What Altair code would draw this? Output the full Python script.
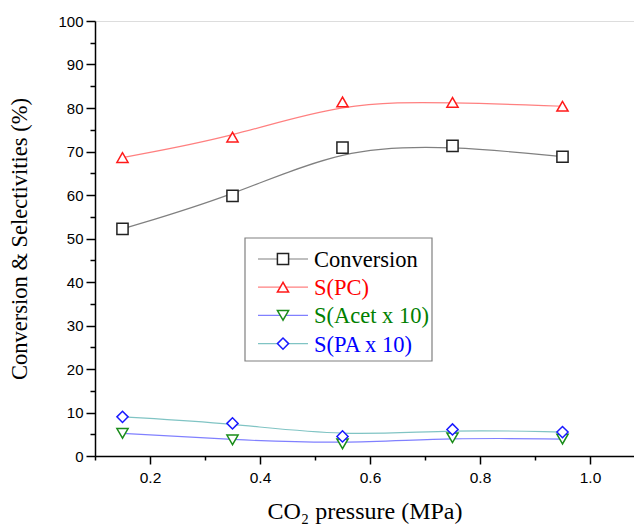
import altair as alt
import pandas as pd

# ---- data ----
pressure = [0.15, 0.35, 0.55, 0.75, 0.95]
conversion = [52.2, 59.8, 70.9, 71.3, 68.8]
s_pc = [68.6, 73.3, 81.4, 81.3, 80.4]
s_acet = [5.2, 3.7, 2.8, 4.2, 3.9]
s_pa = [9.0, 7.5, 4.5, 6.1, 5.5]

series_names = ["Conversion", "S(PC)", "S(Acet x 10)", "S(PA x 10)"]
series_values = [conversion, s_pc, s_acet, s_pa]
line_colors = ["#808080", "#ff8080", "#8080ff", "#80c4c4"]
marker_colors = ["#222222", "#ff1a1a", "#1a8c1a", "#1a1aff"]
label_colors = ["#000000", "#ff0000", "#008000", "#0000ff"]
shapes = ["square", "triangle-up", "triangle-down", "diamond"]

x_major = [0.2, 0.4, 0.6, 0.8, 1.0]
x_minor = [0.1, 0.3, 0.5, 0.7, 0.9]
y_major = list(range(0, 101, 10))
y_minor = list(range(5, 100, 10))

rows = []
for name, vals in zip(series_names, series_values):
    for p, v in zip(pressure, vals):
        rows.append({"series": name, "p": p, "v": v})
df = pd.DataFrame(rows)

xscale = alt.Scale(domain=[0.1, 1.08], nice=False, zero=False)
yscale = alt.Scale(domain=[0, 100], nice=False)

sans = "Liberation Sans"
serif = "Liberation Serif"

x_major_axis = alt.Axis(
    values=x_major, format=".1f", tickSize=8, tickWidth=1.5, domainWidth=1.5,
    domainColor="black", tickColor="black", labelFont=sans, labelFontSize=15.5,
    labelColor="black", labelPadding=6, title="CO₂ pressure (MPa)",
    titleFont=serif, titleFontSize=24, titleFontWeight="normal",
    titleColor="black", titlePadding=14, grid=False, orient="bottom",
    labelFlush=False,
)
y_major_axis = alt.Axis(
    values=y_major, tickSize=9, tickWidth=1.5, domainWidth=1.5,
    domainColor="black", tickColor="black", labelFont=sans, labelFontSize=15,
    labelColor="black", labelPadding=3, title="Conversion & Selectivities (%)",
    titleFont=serif, titleFontSize=22.5, titleFontWeight="normal",
    titleColor="black", titlePadding=26, grid=False, orient="left",
    labelFlush=False,
)
x_minor_axis = alt.Axis(values=x_minor, tickSize=4, tickWidth=1.5, labels=False,
                        domain=False, title=None, grid=False, orient="bottom",
                        tickColor="black")
y_minor_axis = alt.Axis(values=y_minor, tickSize=5, tickWidth=1.5, labels=False,
                        domain=False, title=None, grid=False, orient="left",
                        tickColor="black")

lines = alt.Chart(df).mark_line(interpolate="basis", strokeWidth=1.2).encode(
    x=alt.X("p:Q", scale=xscale, axis=x_major_axis),
    y=alt.Y("v:Q", scale=yscale, axis=y_major_axis),
    color=alt.Color("series:N", scale=alt.Scale(domain=series_names, range=line_colors), legend=None),
    detail="series:N",
)

minor = alt.Chart(df).mark_point(opacity=0).encode(
    x=alt.X("p:Q", scale=xscale, axis=x_minor_axis),
    y=alt.Y("v:Q", scale=yscale, axis=y_minor_axis),
)

points = alt.Chart(df).mark_point(filled=True, fill="white", strokeWidth=1.5, size=125, opacity=1).encode(
    x=alt.X("p:Q", scale=xscale, axis=None),
    y=alt.Y("v:Q", scale=yscale, axis=None),
    stroke=alt.Stroke("series:N", scale=alt.Scale(domain=series_names, range=marker_colors), legend=None),
    shape=alt.Shape("series:N", scale=alt.Scale(domain=series_names, range=shapes), legend=None),
)

# ---- hand-built legend box ----
one = alt.Data(values=[{}])
legend_layers = [
    alt.Chart(one).mark_rect(fill="white", stroke="#808080", strokeWidth=1.2).encode(
        x=alt.value(150), x2=alt.value(337), y=alt.value(217), y2=alt.value(340))
]
for i, name in enumerate(series_names):
    yy = 238 + 28.2 * i
    legend_layers.append(
        alt.Chart(one).mark_rule(color=line_colors[i], strokeWidth=1.2).encode(
            x=alt.value(163), x2=alt.value(213), y=alt.value(yy)))
    legend_layers.append(
        alt.Chart(one).mark_point(filled=True, fill="white", stroke=marker_colors[i],
                                  strokeWidth=1.5, size=125, shape=shapes[i], opacity=1).encode(
            x=alt.value(188), y=alt.value(yy)))
    legend_layers.append(
        alt.Chart(one).mark_text(align="left", baseline="middle", font=serif, fontSize=22.5,
                                 color=label_colors[i]).encode(
            x=alt.value(219), y=alt.value(yy + 1), text=alt.value(name)))

chart = alt.layer(lines, minor, points, *legend_layers).resolve_axis(
    x="independent", y="independent"
).properties(
    width=539, height=435,
    autosize=alt.AutoSizeParams(type="none"),
    padding={"left": 95, "top": 21, "right": 0, "bottom": 72},
).configure_view(stroke=None).configure(background="white")

chart.save("out.html", embed_options={"renderer": "svg", "actions": False})
